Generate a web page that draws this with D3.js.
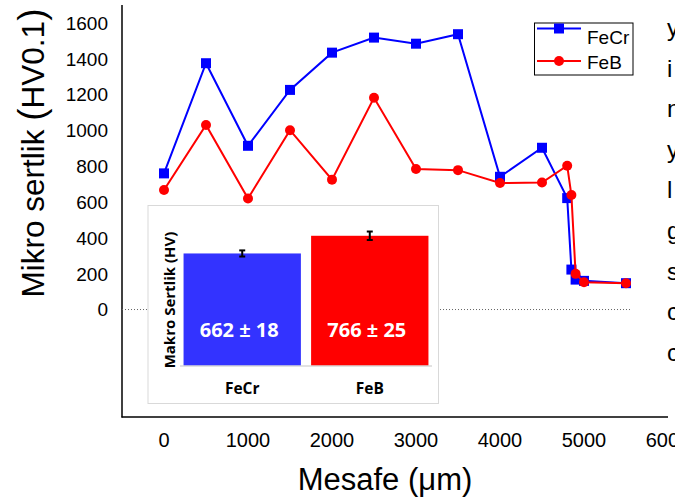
<!DOCTYPE html>
<html><head><meta charset="utf-8">
<script src="https://cdn.jsdelivr.net/npm/d3@7"></script>
<style>body{margin:0;background:#fff}svg{display:block}</style>
</head><body>
<svg id="c" width="675" height="502"></svg>
<script>
// ---- data ----
const distance = [0,500,1000,1500,2000,2500,3000,3500,4000,4500,4800,4850,4900,5000,5500];
const feCr = [760,1375,914,1226,1434,1518,1484,1537,741,903,622,223,167,160,147];
const distanceB = [0,500,1000,1500,2000,2500,3000,3500,4000,4500,4800,4850,4900,5000,5500];
const feB = [667,1030,620,1001,725,1182,784,778,706,709,803,639,199,152,147];
const yTicks = [0,200,400,600,800,1000,1200,1400,1600];
const xTicks = [0,1000,2000,3000,4000,5000,6000];
const insetCats = ["FeCr","FeB"];
const insetVals = [662,766];
const insetErr = [18,25];
const sideLetters = ["y","i","n","y","l","g","s","c","c"];

const svg = d3.select("#c");
const F = "'Liberation Sans', Arial, sans-serif";
const x = d3.scaleLinear().domain([-500,6000]).range([122,668]);
const y = d3.scaleLinear().domain([-600,1700]).range([417,5]);

// axes lines
svg.append("line").attr("x1",122).attr("x2",122).attr("y1",5).attr("y2",417.5).attr("stroke","#000").attr("stroke-width",1.5);
svg.append("line").attr("x1",121.5).attr("x2",668).attr("y1",417).attr("y2",417).attr("stroke","#000").attr("stroke-width",1.5);

// tick labels
svg.selectAll(".yt").data(yTicks).enter().append("text")
  .attr("x",108).attr("y",d=>y(d)).attr("dy","0.36em").attr("text-anchor","end")
  .attr("font-family",F).attr("font-size",19).text(d=>d);
svg.selectAll(".xt").data(xTicks).enter().append("text")
  .attr("x",d=>x(d)).attr("y",447).attr("text-anchor","middle")
  .attr("font-family",F).attr("font-size",20).text(d=>d);

// axis titles
svg.append("text").attr("transform","translate(44,153) rotate(-90)")
  .attr("text-anchor","middle").attr("font-family",F).attr("font-size",31.5)
  .html('Mikro sertlik <tspan font-size="37">(</tspan>HV0.1<tspan font-size="37">)</tspan>');
svg.append("text").attr("x",385).attr("y",490).attr("text-anchor","middle")
  .attr("font-family",F).attr("font-size",31).text("Mesafe (\u03bcm)");

// zero dotted line
svg.append("line").attr("x1",122).attr("x2",630).attr("y1",y(0)).attr("y2",y(0))
  .attr("stroke","#666").attr("stroke-width",1).attr("stroke-dasharray","1,2");

// inset
const ins = svg.append("g");
ins.append("rect").attr("x",148).attr("y",205.5).attr("width",290.5).attr("height",198)
  .attr("fill","#fff").attr("stroke","#d9d9d9").attr("stroke-width",1);
const ix = d3.scaleBand().domain(insetCats).range([181,431]).paddingInner(0.08).paddingOuter(0.02);
const iy = d3.scaleLinear().domain([0,800]).range([366,230]);
const icol = ["#3333ff","#ff0000"];
ins.selectAll(".bar").data(insetVals).enter().append("rect")
  .attr("x",(d,i)=>ix(insetCats[i])).attr("width",ix.bandwidth())
  .attr("y",d=>iy(d)).attr("height",d=>iy(0)-iy(d)).attr("fill",(d,i)=>icol[i]);
ins.append("line").attr("x1",180).attr("x2",432).attr("y1",366).attr("y2",366).attr("stroke","#d9d9d9").attr("stroke-width",1.5);
insetVals.forEach((v,i)=>{
  const cx = ix(insetCats[i]) + ix.bandwidth()/2;
  const g = ins.append("g").attr("stroke","#000").attr("stroke-width",2);
  g.append("line").attr("x1",cx).attr("x2",cx).attr("y1",iy(v+insetErr[i])).attr("y2",iy(v-insetErr[i]));
  g.append("line").attr("x1",cx-3).attr("x2",cx+3).attr("y1",iy(v+insetErr[i])).attr("y2",iy(v+insetErr[i]));
  g.append("line").attr("x1",cx-3).attr("x2",cx+3).attr("y1",iy(v-insetErr[i])).attr("y2",iy(v-insetErr[i]));
  ins.append("text").attr("x",cx-3).attr("y",337).attr("text-anchor","middle")
    .attr("font-family","'Open Sans', sans-serif").attr("font-weight","bold").attr("font-size",20)
    .attr("fill","#fff").text(v+" \u00b1 "+insetErr[i]);
  ins.append("text").attr("x",cx).attr("y",394).attr("text-anchor","middle")
    .attr("font-family","'Open Sans', sans-serif").attr("font-weight","bold").attr("font-size",15.5)
    .attr("fill","#000").text(insetCats[i]);
});
ins.append("text").attr("transform","translate(175,300) rotate(-90)").attr("text-anchor","middle")
  .attr("font-family","'Open Sans', sans-serif").attr("font-weight","bold").attr("font-size",15)
  .text("Makro Sertlik (HV)");

// series
const line = d3.line();
const ptsB = distanceB.map((d,i)=>[x(d),y(feB[i])]);
const ptsC = distance.map((d,i)=>[x(d),y(feCr[i])]);
svg.append("path").attr("d",line(ptsC)).attr("fill","none").attr("stroke","#0000ff").attr("stroke-width",2);
svg.selectAll(".sq").data(ptsC).enter().append("rect")
  .attr("x",d=>d[0]-5).attr("y",d=>d[1]-5).attr("width",10).attr("height",10).attr("fill","#0000ff");
svg.append("path").attr("d",line(ptsB)).attr("fill","none").attr("stroke","#ff0000").attr("stroke-width",2);
svg.selectAll(".ci").data(ptsB).enter().append("circle")
  .attr("cx",d=>d[0]).attr("cy",d=>d[1]).attr("r",5).attr("fill","#ff0000");

// legend
const lg = svg.append("g");
lg.append("rect").attr("x",534.5).attr("y",23).attr("width",98.5).attr("height",52).attr("fill","#fff").attr("stroke","#000").attr("stroke-width",1);
lg.append("line").attr("x1",537).attr("x2",581).attr("y1",28.5).attr("y2",28.5).attr("stroke","#0000ff").attr("stroke-width",2);
lg.append("rect").attr("x",554).attr("y",23.5).attr("width",10).attr("height",10).attr("fill","#0000ff");
lg.append("text").attr("x",587).attr("y",43.5).attr("font-family",F).attr("font-size",19).text("FeCr");
lg.append("line").attr("x1",537).attr("x2",581).attr("y1",61).attr("y2",61).attr("stroke","#ff0000").attr("stroke-width",2);
lg.append("circle").attr("cx",559).attr("cy",61).attr("r",5).attr("fill","#ff0000");
lg.append("text").attr("x",587).attr("y",68.5).attr("font-family",F).attr("font-size",19).text("FeB");

// clipped side text (cut at the right edge, as in the reference)
svg.selectAll(".sl").data(sideLetters).enter().append("text")
  .attr("x",667).attr("y",(d,i)=>36+i*40.6).attr("font-family",F).attr("font-size",24).text(d=>d);
</script>
</body></html>
